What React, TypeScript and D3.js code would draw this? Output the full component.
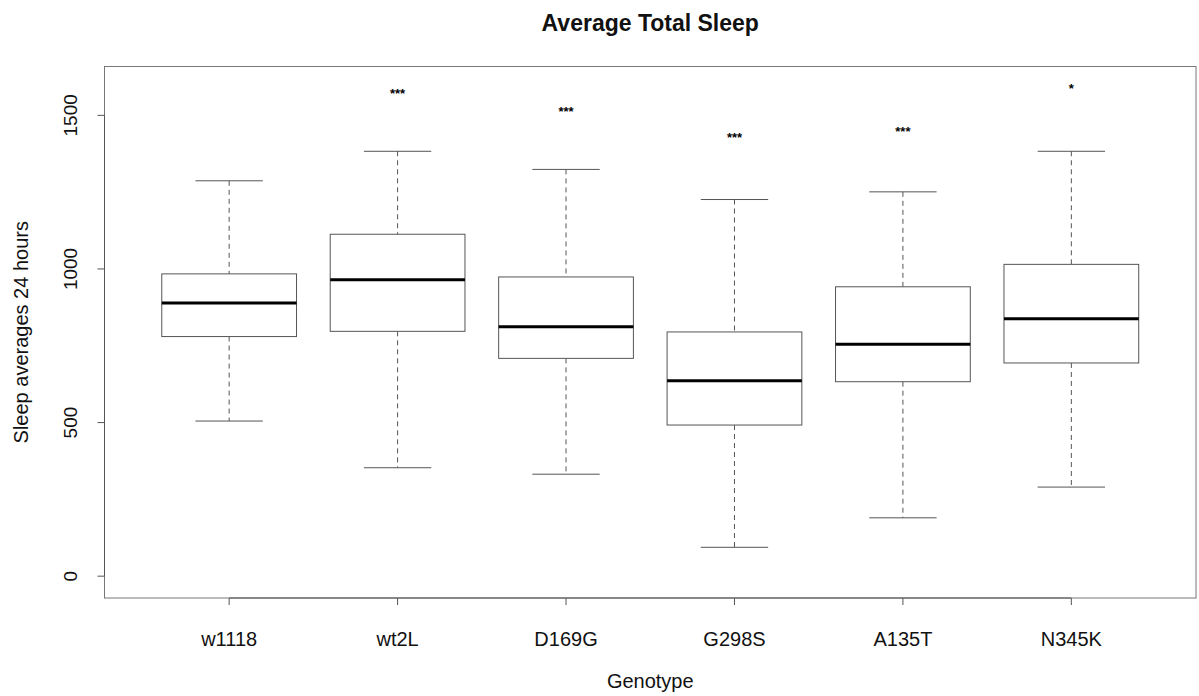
import * as d3 from 'd3'

// boxplot stats (minutes of sleep per 24h)
const genotypes = ['w1118', 'wt2L', 'D169G', 'G298S', 'A135T', 'N345K']
const whiskerLow = [505, 353, 332, 94, 190, 290]
const q1 = [780, 797, 709, 492, 633, 694]
const medians = [889, 965, 812, 636, 755, 838]
const q3 = [984, 1113, 974, 795, 942, 1015]
const whiskerHigh = [1287, 1383, 1324, 1226, 1251, 1383]
const stars = ['', '***', '***', '***', '***', '*']
const starAt = [0, 1578, 1521, 1437, 1454, 1596]
const yTicks = [0, 500, 1000, 1500]

const W = 1199, H = 696
const M = { top: 66.5, right: 3, bottom: 98, left: 104.5 }
const FONT = '"Liberation Sans", Arial, Helvetica, sans-serif'
const LINE = '#555'

export default function App() {
  const x = d3.scaleLinear().domain([0.26, 6.74]).range([M.left, W - M.right])
  const y = d3.scaleLinear().domain([-71, 1659]).range([H - M.bottom, M.top])
  const boxW = (x(1) - x(0)) * 0.8
  const capW = boxW / 2
  const x0 = M.left, x1 = W - M.right, yb = H - M.bottom

  return (
    <svg width={W} height={H} style={{ position: 'absolute', left: 0, top: 0, background: '#fff' }}
      fontFamily={FONT}>
      <text x={(x0 + x1) / 2} y={31} textAnchor="middle" fontWeight="bold" fontSize={23} fill="#111">
        Average Total Sleep
      </text>

      {genotypes.map((g, i) => {
        const cx = x(i + 1)
        return (
          <g key={g}>
            <line x1={cx} x2={cx} y1={y(whiskerHigh[i])} y2={y(q3[i])} stroke={LINE} strokeDasharray="5,4" />
            <line x1={cx} x2={cx} y1={y(q1[i])} y2={y(whiskerLow[i])} stroke={LINE} strokeDasharray="5,4" />
            <line x1={cx - capW / 2} x2={cx + capW / 2} y1={y(whiskerHigh[i])} y2={y(whiskerHigh[i])} stroke={LINE} />
            <line x1={cx - capW / 2} x2={cx + capW / 2} y1={y(whiskerLow[i])} y2={y(whiskerLow[i])} stroke={LINE} />
            <rect x={cx - boxW / 2} y={y(q3[i])} width={boxW} height={y(q1[i]) - y(q3[i])}
              fill="#fff" stroke={LINE} />
            <line x1={cx - boxW / 2} x2={cx + boxW / 2} y1={y(medians[i])} y2={y(medians[i])} stroke="#000" strokeWidth={3} />
            {stars[i] && (
              <text x={cx} y={y(starAt[i]) + 7} textAnchor="middle" fontSize={13} fontWeight="bold">{stars[i]}</text>
            )}
            <line x1={cx} x2={cx} y1={yb} y2={yb + 7} stroke={LINE} />
            <text x={cx} y={646} textAnchor="middle" fontSize={20} fill="#111">{g}</text>
          </g>
        )
      })}

      {/* plot frame */}
      <rect x={x0} y={M.top} width={x1 - x0} height={yb - M.top} fill="none" stroke="#777" />
      {/* axis lines as R draws them (first to last tick) */}
      <line x1={x(1)} x2={x(6)} y1={yb} y2={yb} stroke={LINE} />
      <line x1={x0} x2={x0} y1={y(0)} y2={y(1500)} stroke={LINE} />

      {yTicks.map(t => (
        <g key={t}>
          <line x1={x0 - 7} x2={x0} y1={y(t)} y2={y(t)} stroke={LINE} />
          <text transform={`translate(77,${y(t)}) rotate(-90)`} textAnchor="middle" fontSize={19} fill="#111">{t}</text>
        </g>
      ))}

      <text transform={`translate(28,${(M.top + yb) / 2}) rotate(-90)`} textAnchor="middle" fontSize={20} fill="#111">
        Sleep averages 24 hours
      </text>
      <text x={(x0 + x1) / 2} y={688} textAnchor="middle" fontSize={20} fill="#111">Genotype</text>
    </svg>
  )
}
